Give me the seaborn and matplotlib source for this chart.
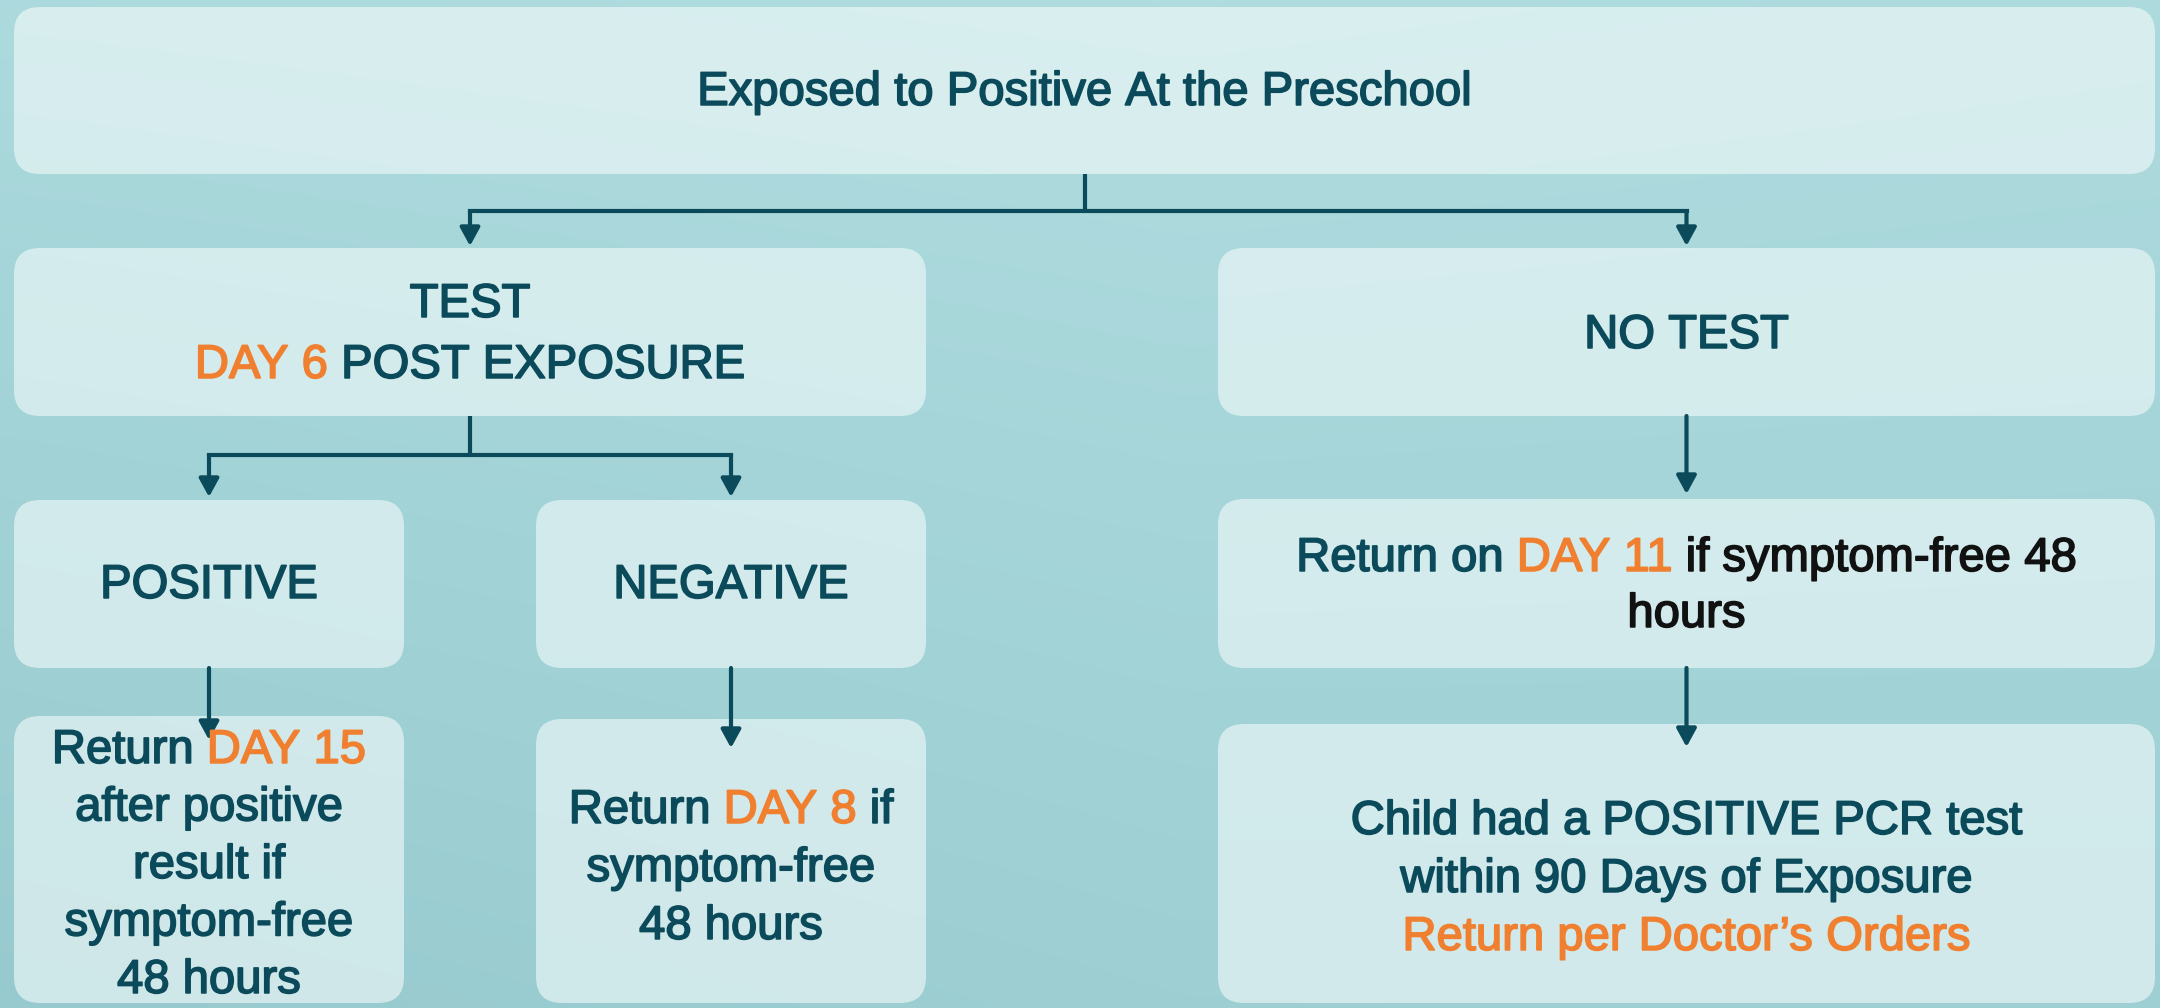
import numpy as np
import matplotlib.pyplot as plt
import seaborn as sns
import matplotlib.patheffects as pe
from matplotlib.patches import FancyBboxPatch
from matplotlib.colors import LinearSegmentedColormap

sns.set_theme(style="white")
plt.rcParams['font.family'] = ['Liberation Sans', 'DejaVu Sans']

INK = "#0b4a5a"
ACCENT = "#f08030"
BLACK = "#111111"
COLORS = {"ink": INK, "accent": ACCENT, "black": BLACK}

# node texts: each line is a list of (text, colour key) pieces
top_lines = [[("Exposed to Positive At the Preschool", "ink")]]
test_lines = [[("TEST", "ink")],
              [("DAY 6", "accent"), ("POST EXPOSURE", "ink")]]
no_test_lines = [[("NO TEST", "ink")]]
positive_lines = [[("POSITIVE", "ink")]]
negative_lines = [[("NEGATIVE", "ink")]]
day11_lines = [[("Return on", "ink"), ("DAY 11", "accent"), ("if symptom-free 48", "black")],
               [("hours", "black")]]
pos_return_lines = [[("Return", "ink"), ("DAY 15", "accent")],
                    [("after positive", "ink")],
                    [("result if", "ink")],
                    [("symptom-free", "ink")],
                    [("48 hours", "ink")]]
neg_return_lines = [[("Return", "ink"), ("DAY 8", "accent"), ("if", "ink")],
                    [("symptom-free", "ink")],
                    [("48 hours", "ink")]]
pcr_lines = [[("Child had a POSITIVE PCR test", "ink")],
             [("within 90 Days of Exposure", "ink")],
             [("Return per Doctor\u2019s Orders", "accent")]]

node_text = {
    "top": top_lines, "test": test_lines, "notest": no_test_lines,
    "pos": positive_lines, "neg": negative_lines, "day11": day11_lines,
    "posret": pos_return_lines, "negret": neg_return_lines, "pcr": pcr_lines,
}

# edges: (parent, children, bend y, arrow tip y)
edges = [
    ("top", ["test", "notest"], 211, 246),
    ("test", ["pos", "neg"], 455, 497),
    ("notest", ["day11"], None, 494),
    ("pos", ["posret"], None, 740),
    ("neg", ["negret"], None, 748),
    ("day11", ["pcr"], None, 747),
]

# layout in pixels: box (x0, y0, x1, y1), first line centre, line step
layout = {
    "top":    ((14, 7, 2155, 174), 88, 0),
    "test":   ((14, 248, 926, 416), 300, 61),
    "notest": ((1218, 248, 2155, 416), 331, 0),
    "pos":    ((14, 500, 404, 668), 581, 0),
    "neg":    ((536, 500, 926, 668), 581, 0),
    "day11":  ((1218, 499, 2155, 668), 554, 56),
    "posret": ((14, 716, 404, 1003), 746, 57.5),
    "negret": ((536, 719, 926, 1003), 806, 58),
    "pcr":    ((1218, 724, 2155, 1003), 817, 58),
}

W, H = 2160, 1008
fig = plt.figure(figsize=(W / 100, H / 100), dpi=100)
ax = fig.add_axes([0, 0, 1, 1])
ax.set_xlim(0, W)
ax.set_ylim(H, 0)
ax.axis("off")

# soft teal backdrop
gx, gy = np.meshgrid(np.linspace(0, 1, 240), np.linspace(0, 1, 112))
shade = 0.55 * gy + 0.25 * (1 - gx) * gy + 0.2 * np.abs(gx - 0.55)
bg = LinearSegmentedColormap.from_list("bg", ["#b0dcdf", "#a2d3d7", "#97cace"])
ax.imshow(shade, cmap=bg, extent=(0, W, H, 0), aspect="auto", zorder=0,
          interpolation="bicubic")

renderer = fig.canvas.get_renderer()
FS = 34


def text_width(s):
    t = ax.text(0, 0, s, fontsize=FS)
    w = t.get_window_extent(renderer).width
    t.remove()
    return w


space_w = text_width("x x") - text_width("xx")


def draw_line(pieces, cx, yc):
    words = []
    for s, c in pieces:
        for wd in s.split(" "):
            words.append((wd, COLORS[c]))
    widths = [text_width(wd) for wd, _ in words]
    total = sum(widths) + space_w * (len(words) - 1)
    x = cx - total / 2
    base = yc + 0.358 * FS * 100 / 72
    for (wd, col), w in zip(words, widths):
        ax.text(x, base, wd, fontsize=FS, color=col, ha="left", va="baseline",
                zorder=5,
                path_effects=[pe.withStroke(linewidth=1.2, foreground=col)])
        x += w + space_w


centres = {}
for name, ((x0, y0, x1, y1), first, step) in layout.items():
    box = FancyBboxPatch((x0, y0), x1 - x0, y1 - y0,
                         boxstyle="round,pad=0,rounding_size=26",
                         facecolor="#f4fbfb", alpha=0.6, edgecolor="none", zorder=2)
    ax.add_patch(box)
    cx = (x0 + x1) / 2
    centres[name] = cx
    for i, line in enumerate(node_text[name]):
        draw_line(line, cx, first + i * step)

LW = 3
arrow_kw = dict(arrowstyle="-|>,head_length=0.55,head_width=0.3", color=INK,
                lw=LW, shrinkA=0, shrinkB=0, mutation_scale=20)
for parent, kids, bend, tip in edges:
    px = centres[parent]
    py = layout[parent][0][3]
    if bend is None:
        kx = centres[kids[0]]
        ax.annotate("", xy=(kx, tip), xytext=(px, py), arrowprops=arrow_kw, zorder=4)
        continue
    ax.plot([px, px], [py, bend], color=INK, lw=LW, zorder=4, solid_capstyle="butt")
    xs = [centres[k] for k in kids]
    ax.plot([min(xs), max(xs)], [bend, bend], color=INK, lw=LW, zorder=4,
            solid_capstyle="projecting")
    for kx in xs:
        ax.annotate("", xy=(kx, tip), xytext=(kx, bend), arrowprops=arrow_kw, zorder=4)

fig.savefig("out.png", dpi=100)
